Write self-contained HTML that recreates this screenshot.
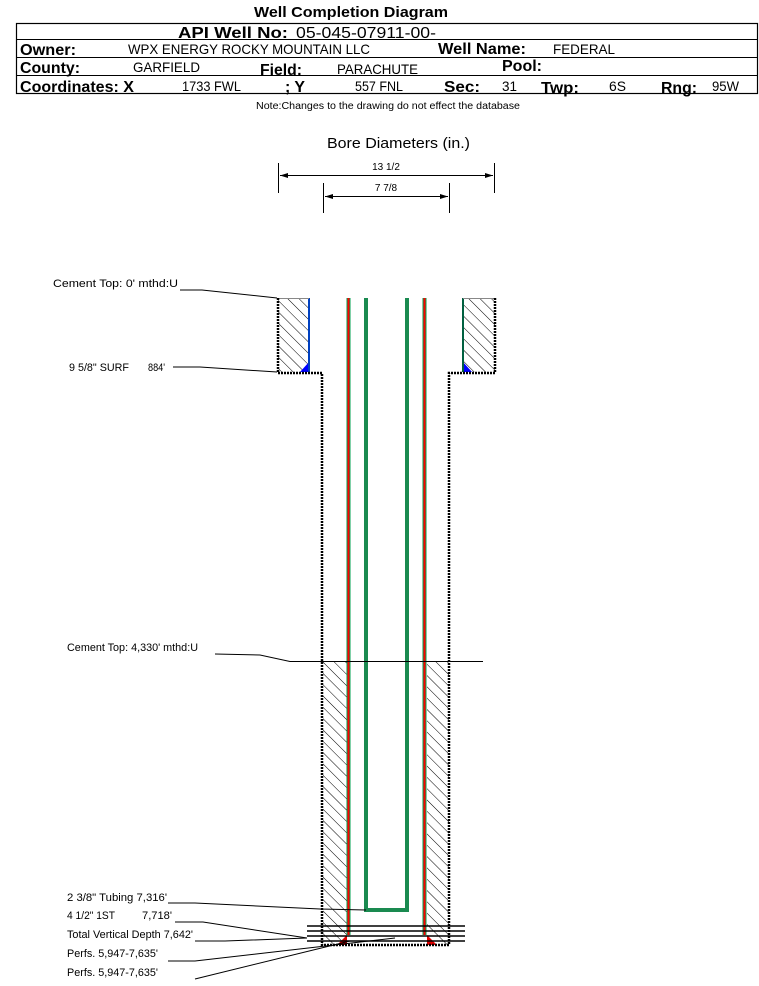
<!DOCTYPE html>
<html><head><meta charset="utf-8"><style>
body{margin:0;background:#fff;width:759px;height:981px;overflow:hidden;font-family:"Liberation Sans",sans-serif}
</style></head><body>
<svg width="759" height="981" xmlns="http://www.w3.org/2000/svg" font-family="Liberation Sans, sans-serif">
<defs>
<pattern id="h" patternUnits="userSpaceOnUse" width="8" height="8" patternTransform="rotate(-45)">
<line x1="0" y1="0" x2="0" y2="8" stroke="#000" stroke-width="1"/>
</pattern>
</defs>
<text x="254" y="17" font-size="15" font-weight="bold" textLength="194" lengthAdjust="spacingAndGlyphs">Well Completion Diagram</text>
<rect x="16.5" y="23.5" width="741" height="70" fill="none" stroke="#000" stroke-width="1.2"/>
<line x1="16" y1="39.5" x2="757" y2="39.5" stroke="#000"/>
<line x1="16" y1="57.5" x2="757" y2="57.5" stroke="#000"/>
<line x1="16" y1="75.5" x2="757" y2="75.5" stroke="#000"/>
<g lengthAdjust="spacingAndGlyphs">
<text x="178" y="38" font-size="16" font-weight="bold" textLength="110" lengthAdjust="spacingAndGlyphs">API Well No:</text>
<text x="296" y="38" font-size="16" textLength="140" lengthAdjust="spacingAndGlyphs">05-045-07911-00-</text>
<text x="20" y="55" font-size="16" font-weight="bold" textLength="56" lengthAdjust="spacingAndGlyphs">Owner:</text>
<text x="128" y="54" font-size="14" textLength="242" lengthAdjust="spacingAndGlyphs">WPX ENERGY ROCKY MOUNTAIN LLC</text>
<text x="438" y="54" font-size="16" font-weight="bold" textLength="88" lengthAdjust="spacingAndGlyphs">Well Name:</text>
<text x="553" y="54" font-size="14" textLength="62" lengthAdjust="spacingAndGlyphs">FEDERAL</text>
<text x="20" y="73" font-size="16" font-weight="bold" textLength="60" lengthAdjust="spacingAndGlyphs">County:</text>
<text x="133" y="72" font-size="14" textLength="67" lengthAdjust="spacingAndGlyphs">GARFIELD</text>
<text x="260" y="75" font-size="16" font-weight="bold" textLength="42" lengthAdjust="spacingAndGlyphs">Field:</text>
<text x="337" y="74" font-size="14" textLength="81" lengthAdjust="spacingAndGlyphs">PARACHUTE</text>
<text x="502" y="71" font-size="16" font-weight="bold" textLength="40" lengthAdjust="spacingAndGlyphs">Pool:</text>
<text x="20" y="92" font-size="16" font-weight="bold" textLength="114" lengthAdjust="spacingAndGlyphs">Coordinates: X</text>
<text x="182" y="91" font-size="14" textLength="59" lengthAdjust="spacingAndGlyphs">1733 FWL</text>
<text x="285" y="92" font-size="16" font-weight="bold" textLength="20" lengthAdjust="spacingAndGlyphs">; Y</text>
<text x="355" y="91" font-size="14" textLength="48" lengthAdjust="spacingAndGlyphs">557 FNL</text>
<text x="444" y="92" font-size="16" font-weight="bold" textLength="36" lengthAdjust="spacingAndGlyphs">Sec:</text>
<text x="502" y="91" font-size="14" textLength="15" lengthAdjust="spacingAndGlyphs">31</text>
<text x="541" y="93" font-size="16" font-weight="bold" textLength="38" lengthAdjust="spacingAndGlyphs">Twp:</text>
<text x="609" y="91" font-size="14" textLength="17" lengthAdjust="spacingAndGlyphs">6S</text>
<text x="661" y="93" font-size="16" font-weight="bold" textLength="36" lengthAdjust="spacingAndGlyphs">Rng:</text>
<text x="712" y="91" font-size="14" textLength="27" lengthAdjust="spacingAndGlyphs">95W</text>
</g>
<text x="256" y="109" font-size="10" textLength="264" lengthAdjust="spacingAndGlyphs">Note:Changes to the drawing do not effect the database</text>

<text x="327" y="148" font-size="15" textLength="143" lengthAdjust="spacingAndGlyphs">Bore Diameters (in.)</text>
<g stroke="#000" stroke-width="1">
<line x1="278.5" y1="163" x2="278.5" y2="193"/><line x1="494.5" y1="163" x2="494.5" y2="193"/>
<line x1="280" y1="175.5" x2="493" y2="175.5"/>
<line x1="323.5" y1="183" x2="323.5" y2="213"/><line x1="449.5" y1="183" x2="449.5" y2="213"/>
<line x1="325" y1="196.5" x2="448" y2="196.5"/>
</g>
<polygon points="280,175.5 288,173 288,178" fill="#000"/><polygon points="493,175.5 485,173 485,178" fill="#000"/>
<polygon points="325,196.5 333,194 333,199" fill="#000"/><polygon points="448,196.5 440,194 440,199" fill="#000"/>
<text x="386" y="170" font-size="10" text-anchor="middle">13 1/2</text>
<text x="386" y="191" font-size="10" text-anchor="middle">7 7/8</text>

<rect x="278" y="298" width="31" height="74" fill="url(#h)"/>
<rect x="463" y="298" width="32" height="74" fill="url(#h)"/>
<polygon points="309,362 309,372 300,372" fill="#0000ff"/>
<polygon points="463,362 463,372 472,372" fill="#0000ff"/>
<line x1="309" y1="298" x2="309" y2="372" stroke="#0040c0" stroke-width="2"/>
<line x1="463" y1="298" x2="463" y2="372" stroke="#006040" stroke-width="2"/>
<line x1="278" y1="298.5" x2="309" y2="298.5" stroke="#888"/>
<line x1="463" y1="298.5" x2="495" y2="298.5" stroke="#888"/>
<rect x="323" y="662" width="24" height="283" fill="url(#h)"/>
<rect x="427" y="662" width="22" height="283" fill="url(#h)"/>
<polygon points="347,935 347,945 337,945" fill="#e00000"/>
<polygon points="427,935 427,945 437,945" fill="#e00000"/>
<g fill="none" stroke="#000" stroke-width="2.5" stroke-dasharray="2 1">
<polyline points="278,298 278,373 322,373 322,945 449,945 449,373 495,373 495,298"/>
</g>
<line x1="348.5" y1="298" x2="348.5" y2="935" stroke="#00a050" stroke-width="4"/>
<line x1="348.5" y1="298" x2="348.5" y2="935" stroke="#ff0000" stroke-width="2"/>
<line x1="424.5" y1="298" x2="424.5" y2="935" stroke="#00a050" stroke-width="4"/>
<line x1="424.5" y1="298" x2="424.5" y2="935" stroke="#ff0000" stroke-width="2"/>
<polyline points="366,298 366,910 407,910 407,298" fill="none" stroke="#1a8a50" stroke-width="4"/>
<g stroke="#000" stroke-width="1.6">
<line x1="307" y1="926" x2="465" y2="926"/><line x1="307" y1="931" x2="465" y2="931"/>
<line x1="307" y1="936" x2="465" y2="936"/><line x1="307" y1="941" x2="465" y2="941"/>
</g>
<polyline points="215,654 260,655 290,661.5 483,661.5" fill="none" stroke="#000"/>
<g font-size="11">
<text x="53" y="287" textLength="125" lengthAdjust="spacingAndGlyphs">Cement Top: 0' mthd:U</text>
<text x="69" y="371" textLength="60" lengthAdjust="spacingAndGlyphs">9 5/8" SURF</text>
<text x="148" y="371" textLength="17" lengthAdjust="spacingAndGlyphs">884'</text>
<text x="67" y="651" textLength="131" lengthAdjust="spacingAndGlyphs">Cement Top: 4,330' mthd:U</text>
<text x="67" y="901" textLength="100" lengthAdjust="spacingAndGlyphs">2 3/8" Tubing 7,316'</text>
<text x="67" y="919" textLength="48" lengthAdjust="spacingAndGlyphs">4 1/2" 1ST</text>
<text x="142" y="919" textLength="30" lengthAdjust="spacingAndGlyphs">7,718'</text>
<text x="67" y="938" textLength="126" lengthAdjust="spacingAndGlyphs">Total Vertical Depth 7,642'</text>
<text x="67" y="957" textLength="91" lengthAdjust="spacingAndGlyphs">Perfs. 5,947-7,635'</text>
<text x="67" y="976" textLength="91" lengthAdjust="spacingAndGlyphs">Perfs. 5,947-7,635'</text>
</g>
<g fill="none" stroke="#000" stroke-width="1">
<polyline points="180,290 202,290 277,298"/>
<polyline points="173,367 200,367 277,372"/>
<polyline points="168,903 195,903 320,909 366,910"/>
<polyline points="175,922 203,922 307,938"/>
<polyline points="195,941 225,941 307,938"/>
<polyline points="168,961 195,961 395,938"/>
<polyline points="195,979 350,941"/>
</g>
</svg>
</body></html>
